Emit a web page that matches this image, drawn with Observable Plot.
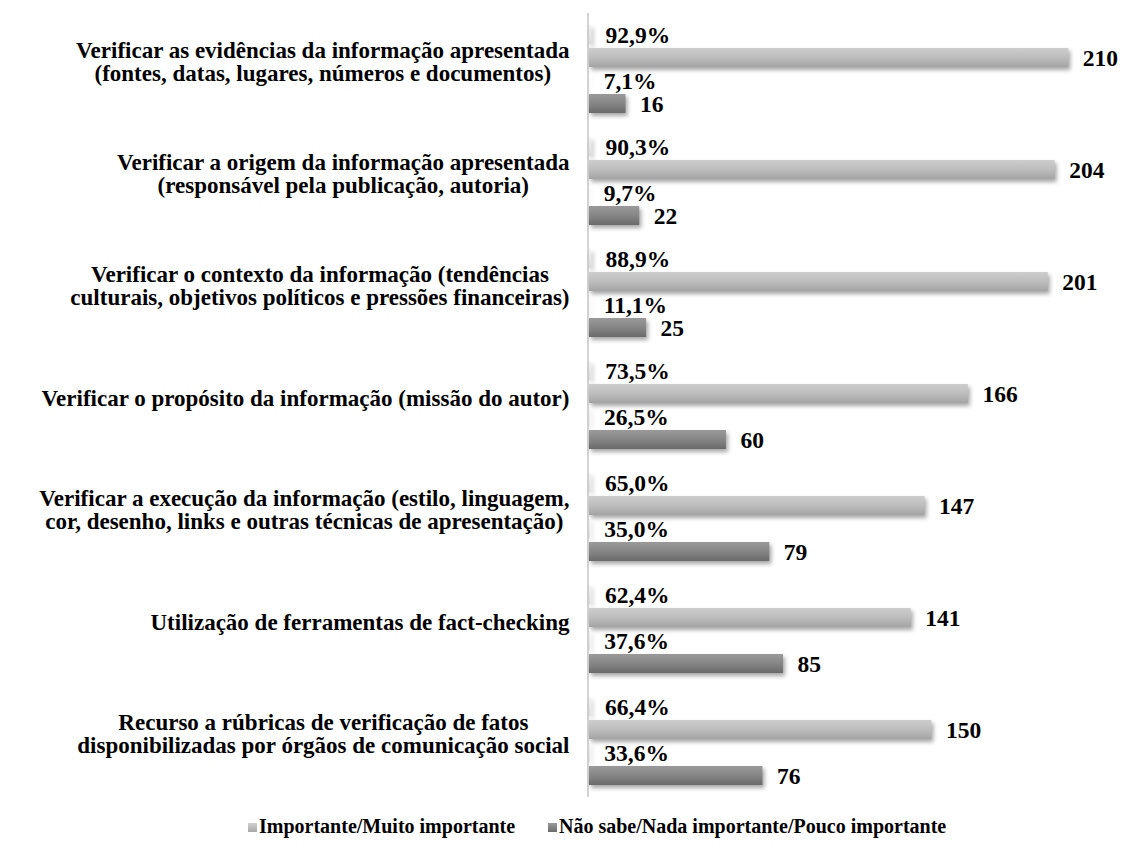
<!DOCTYPE html>
<html><head><meta charset="utf-8">
<script src="https://cdn.jsdelivr.net/npm/d3@7"></script>
<script src="https://cdn.jsdelivr.net/npm/@observablehq/plot@0.6"></script>
<style>
html,body{margin:0;padding:0;background:#fff;}
body{width:1128px;height:864px;position:relative;overflow:hidden;font-family:"Liberation Serif","Tinos","Times New Roman","Nimbus Roman","DejaVu Serif",serif;}
#chart svg{display:block;}
#chart svg, #chart svg text{font-family:"Liberation Serif","Tinos","Times New Roman","Nimbus Roman","DejaVu Serif",serif !important;}
g[aria-label="bar"] rect{filter:drop-shadow(2px 3px 2px rgba(0,0,0,0.35));}
#legend{position:absolute;top:814px;left:0;width:1128px;height:24px;font-weight:bold;font-size:20px;color:#000;}
.item{position:absolute;top:0;white-space:nowrap;line-height:24px;}
.sw{display:inline-block;width:9px;height:9px;margin-right:2px;vertical-align:1px;}
</style></head><body>
<div id="chart"></div>
<div id="legend"></div>
<script>
const categories = [
  "Verificar as evidências da informação apresentada\n(fontes, datas, lugares, números e documentos)",
  "Verificar a origem da informação apresentada\n(responsável pela publicação, autoria)",
  "Verificar o contexto da informação (tendências\nculturais, objetivos políticos e pressões financeiras)",
  "Verificar o propósito da informação (missão do autor)",
  "Verificar a execução da informação (estilo, linguagem,\ncor, desenho, links e outras técnicas de apresentação)",
  "Utilização de ferramentas de fact-checking",
  "Recurso a rúbricas de verificação de fatos\ndisponibilizadas por órgãos de comunicação social"
];
const importantCounts = [210, 204, 201, 166, 147, 141, 150];
const notImportantCounts = [16, 22, 25, 60, 79, 85, 76];
const importantPct = [92.9, 90.3, 88.9, 73.5, 65.0, 62.4, 66.4];
const notImportantPct = [7.1, 9.7, 11.1, 26.5, 35.0, 37.6, 33.6];
const seriesNames = ["Importante/Muito importante", "Não sabe/Nada importante/Pouco importante"];
const slots = ["pctA", "A", "pctB", "B"];

const FONT = "'Liberation Serif','Tinos','Times New Roman','Nimbus Roman','DejaVu Serif',serif";
const fmtPct = v => d3.format(".1f")(v).replace(".", ",") + "%";
const rows = [];
categories.forEach((c, i) => {
  rows.push({cat: c, slot: "pctA", value: importantPct[i] / 100, label: fmtPct(importantPct[i])});
  rows.push({cat: c, slot: "A", value: importantCounts[i], label: String(importantCounts[i])});
  rows.push({cat: c, slot: "pctB", value: notImportantPct[i] / 100, label: fmtPct(notImportantPct[i])});
  rows.push({cat: c, slot: "B", value: notImportantCounts[i], label: String(notImportantCounts[i])});
});
const fills = {pctA: "url(#gPct)", A: "url(#gLight)", pctB: "url(#gPct)", B: "url(#gDark)"};
const barMarks = slots.map(s => Plot.barX(rows.filter(d => d.slot === s), {
  fy: "cat", y: "slot", x: "value", fill: fills[s]
}));

const svg = Plot.plot({
  width: 1128,
  height: 805,
  marginLeft: 589,
  marginRight: 14,
  marginTop: 10,
  marginBottom: 5,
  style: {fontFamily: FONT, background: "#fff"},
  x: {domain: [0, 230], axis: null},
  y: {domain: slots, paddingInner: 0.17, paddingOuter: 0.435, axis: null},
  fy: {domain: categories, padding: 0, axis: null},
  marks: [
    Plot.ruleX(categories, {fy: d => d, x: 0, dx: -1.5, stroke: "#d4d4d4", strokeWidth: 2}),
    ...barMarks,
    Plot.text(rows, {fy: "cat", y: "slot", x: "value", text: "label", textAnchor: "start", dx: 14,
      fontSize: 23.5, fontWeight: "bold", fontFamily: FONT, fill: "#000"}),
    Plot.text(categories, {fy: d => d, text: d => d, frameAnchor: "left", textAnchor: "end",
      dx: -20, dy: -7, fontSize: 23, fontWeight: "bold", fontFamily: FONT, lineHeight: 1.0, fill: "#000"})
  ]
});

// gradients
const defs = d3.select(svg).insert("defs", ":first-child");
function grad(id, stops) {
  const g = defs.append("linearGradient").attr("id", id).attr("x1", 0).attr("y1", 0).attr("x2", 0).attr("y2", 1);
  stops.forEach(([o, c]) => g.append("stop").attr("offset", o).attr("stop-color", c));
}
grad("gLight", [[0, "#cdcdcd"], [0.5, "#bdbdbd"], [1, "#a4a4a4"]]);
grad("gDark", [[0, "#9a9a9a"], [0.5, "#868686"], [1, "#6a6a6a"]]);
grad("gPct", [[0, "#f2f2f2"], [1, "#dcdcdc"]]);

document.getElementById("chart").appendChild(svg);

// center multi-line category labels relative to each other
svg.querySelectorAll('g[aria-label="text"] text').forEach(t => {
  const spans = t.querySelectorAll("tspan");
  if (spans.length < 2) return;
  let w = 0;
  spans.forEach(s => { w = Math.max(w, s.getComputedTextLength()); });
  t.setAttribute("text-anchor", "middle");
  spans.forEach(s => s.setAttribute("x", -w / 2));
});

// legend
const legend = document.getElementById("legend");
const legendColors = ["linear-gradient(#cfcfcf,#a8a8a8)", "linear-gradient(#9a9a9a,#6a6a6a)"];
const legendLeft = [248, 548];
seriesNames.forEach((n, i) => {
  const it = document.createElement("div");
  it.className = "item";
  it.style.left = legendLeft[i] + "px";
  const sw = document.createElement("span");
  sw.className = "sw";
  sw.style.background = legendColors[i];
  it.appendChild(sw);
  it.appendChild(document.createTextNode(n));
  legend.appendChild(it);
});
</script>
</body></html>
